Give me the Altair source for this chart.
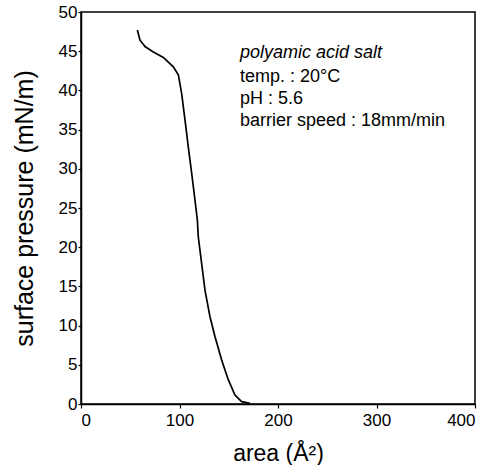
import altair as alt
import pandas as pd

area = [57.2, 59.9, 65.0, 73.4, 83.6, 93.7, 98.8, 102.2, 105.6, 108.9, 112.4, 115.7,
        118.1, 119.1, 122.5, 125.9, 131.0, 136.0, 142.8, 149.5, 156.3, 163.1, 171.6]
pressure = [47.7, 46.4, 45.6, 44.9, 44.2, 43.0, 42.0, 39.6, 36.2, 32.8, 29.4, 26.0,
            23.5, 21.3, 17.9, 14.5, 11.1, 8.6, 5.6, 3.1, 1.15, 0.3, 0.1]
x_ticks = [0, 100, 200, 300, 400]
y_ticks = [0, 5, 10, 15, 20, 25, 30, 35, 40, 45, 50]
note_title = "polyamic acid salt"
note_lines = ["temp. : 20°C", "pH : 5.6", "barrier speed : 18mm/min"]

FONT = "Arial"

df = pd.DataFrame({"area": area, "pressure": pressure, "order": list(range(len(area)))})
one = pd.DataFrame({"k": [0]})

xscale = alt.Scale(domain=[0, 400], nice=False, zero=False)
yscale = alt.Scale(domain=[0, 50], nice=False, zero=False)

xaxis = alt.Axis(values=x_ticks, tickSize=4, labelPadding=4, labelOverlap=False, grid=False,
                 titleFontSize=23, titlePadding=14, labelFontSize=17,
                 titleFontWeight="normal", labelFontWeight="normal")
yaxis = alt.Axis(values=y_ticks, tickSize=3, labelPadding=1, labelOverlap=False, grid=False,
                 titleFontSize=25, titlePadding=21, labelFontSize=17,
                 titleFontWeight="normal", labelFontWeight="normal")

line = alt.Chart(df).mark_line(color="black", strokeWidth=1.7).encode(
    x=alt.X("area:Q", scale=xscale, title="area (Å²)", axis=xaxis),
    y=alt.Y("pressure:Q", scale=yscale, title="surface pressure (mN/m)", axis=yaxis),
    order="order:Q",
)

note1 = alt.Chart(one).mark_text(
    text=note_title, font=FONT, fontSize=18, fontStyle="italic", fontWeight="normal",
    align="left", baseline="alphabetic", color="black"
).encode(
    x=alt.XDatum(161.4, scale=xscale, axis=xaxis, title="area (Å²)"),
    y=alt.YDatum(44.13, scale=yscale, axis=yaxis, title="surface pressure (mN/m)"),
)

note2 = alt.Chart(one).mark_text(
    text=note_lines, font=FONT, fontSize=18, lineHeight=22, fontWeight="normal",
    align="left", baseline="alphabetic", color="black"
).encode(
    x=alt.XDatum(161.4, scale=xscale, axis=xaxis, title="area (Å²)"),
    y=alt.YDatum(41.07, scale=yscale, axis=yaxis, title="surface pressure (mN/m)"),
)

chart = alt.layer(line, note1, note2).properties(
    width=394, height=392,
    background="white",
    autosize=alt.AutoSizeParams(type="none"),
    padding={"left": 81, "top": 12, "right": 24, "bottom": 61},
).configure_view(
    stroke="#000000", strokeWidth=1.5, strokeOpacity=1
).configure_axis(
    grid=False, domainColor="black", domainWidth=1.5, tickColor="black",
    tickWidth=1.2, labelColor="black", titleColor="black",
    labelFont=FONT, titleFont=FONT, titleFontWeight="normal",
)

chart.save("out.html", embed_options={"renderer": "svg", "actions": False})
